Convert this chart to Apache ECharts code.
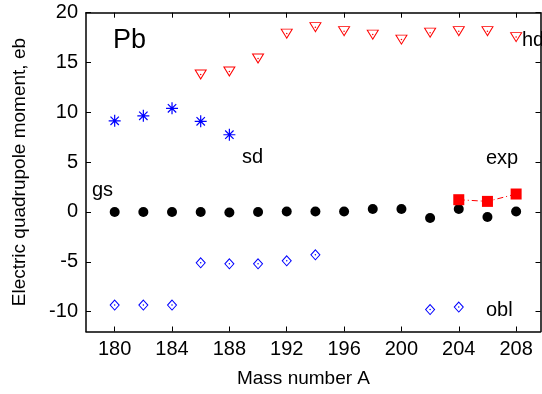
<!DOCTYPE html>
<html>
<head>
<meta charset="utf-8">
<script src="https://cdn.jsdelivr.net/npm/echarts@6/dist/echarts.min.js"></script>
<style>
  html, body { margin: 0; padding: 0; background: #fff; }
  #chart { width: 542px; height: 394px; }
</style>
</head>
<body>
<div id="chart"></div>
<script>
// ground state (gs), filled circles
const gsMass = [180, 182, 184, 186, 188, 190, 192, 194, 196, 198, 200, 202, 204, 206, 208]
const gsValues = [0, 0, 0, 0, -0.05, 0, 0.05, 0.05, 0.05, 0.3, 0.3, -0.6, 0.3, -0.5, 0.05]
// hyperdeformed (hd), open down triangles
const hdMass = [186, 188, 190, 192, 194, 196, 198, 200, 202, 204, 206, 208]
const hdValues = [13.8, 14.1, 15.4, 17.9, 18.55, 18.15, 17.8, 17.3, 18.0, 18.15, 18.15, 17.55]
// superdeformed (sd), asterisks
const sdMass = [180, 182, 184, 186, 188]
const sdValues = [9.15, 9.65, 10.4, 9.1, 7.75]
// oblate (obl), open diamonds
const oblMass = [180, 182, 184, 186, 188, 190, 192, 194, 202, 204]
const oblValues = [-9.35, -9.35, -9.35, -5.1, -5.2, -5.2, -4.9, -4.3, -9.8, -9.55]
// experiment (exp), filled squares
const expMass = [204, 206, 208]
const expValues = [1.23, 1.06, 1.8]

const xTicks = [180, 184, 188, 192, 196, 200, 204, 208]
const yTicks = [-10, -5, 0, 5, 10, 15, 20]

const FONT = 'Liberation Sans, Arial, sans-serif'
const pairs = (xs, ys) => xs.map((x, i) => [x, ys[i]])

const chart = echarts.init(document.getElementById('chart'), null, { renderer: 'canvas' })

const frameLine = { show: true, onZero: false, lineStyle: { color: '#000', width: 1.5 } }
const xBase = {
  type: 'value',
  min: 178,
  max: 209.7,
  axisLine: frameLine,
  axisTick: { inside: true, length: 5, customValues: xTicks, lineStyle: { color: '#000', width: 1 } },
  splitLine: { show: false }
}
const yBase = {
  type: 'value',
  min: -12,
  max: 20,
  axisLine: frameLine,
  axisTick: { inside: true, length: 5, customValues: yTicks, lineStyle: { color: '#000', width: 1 } },
  splitLine: { show: false }
}

const asterisk = 'path://M0,5L10,5M5,0L5,10M1.5,1.5L8.5,8.5M8.5,1.5L1.5,8.5'

const label = (text, x, y, size) => ({
  type: 'text',
  x, y,
  style: { text, font: `${size || 19}px ${FONT}`, fill: '#000', verticalAlign: 'middle', align: 'left' }
})

chart.setOption({
  animation: false,
  backgroundColor: '#fff',
  grid: { left: 86, right: 1.5, top: 12.7, bottom: 62.5, containLabel: false },
  xAxis: [
    {
      ...xBase,
      position: 'bottom',
      axisLabel: { customValues: xTicks, color: '#000', fontSize: 20, fontFamily: FONT, margin: 8 },
      name: 'Mass number A',
      nameLocation: 'middle',
      nameGap: 38,
      nameTextStyle: { color: '#000', fontSize: 19, fontFamily: FONT, padding: [0, 19.5, 0, 0] }
    },
    { ...xBase, position: 'top', axisLabel: { show: false } }
  ],
  yAxis: [
    {
      ...yBase,
      position: 'left',
      axisLabel: { customValues: yTicks, color: '#000', fontSize: 20, fontFamily: FONT, margin: 8 },
      name: 'Electric quadrupole moment, eb',
      nameLocation: 'middle',
      nameGap: 57,
      nameTextStyle: { color: '#000', fontSize: 19, fontFamily: FONT }
    },
    { ...yBase, position: 'right', axisLabel: { show: false } }
  ],
  series: [
    {
      name: 'hd', type: 'scatter', data: pairs(hdMass, hdValues),
      symbol: 'triangle', symbolRotate: 180, symbolSize: [11, 9],
      itemStyle: { color: 'transparent', borderColor: '#ff0000', borderWidth: 1, opacity: 1 }
    },
    {
      name: 'hd dot', type: 'scatter', data: pairs(hdMass, hdValues),
      symbol: 'circle', symbolSize: 1.5, itemStyle: { color: '#ff0000', opacity: 1 }
    },
    {
      name: 'sd', type: 'scatter', data: pairs(sdMass, sdValues),
      symbol: asterisk, symbolSize: 12,
      itemStyle: { color: 'transparent', borderColor: '#0000ff', borderWidth: 1.2, opacity: 1 }
    },
    {
      name: 'obl', type: 'scatter', data: pairs(oblMass, oblValues),
      symbol: 'diamond', symbolSize: [9, 10],
      itemStyle: { color: 'transparent', borderColor: '#0000ff', borderWidth: 1, opacity: 1 }
    },
    {
      name: 'obl dot', type: 'scatter', data: pairs(oblMass, oblValues),
      symbol: 'circle', symbolSize: 1.5, itemStyle: { color: '#0000ff', opacity: 1 }
    },
    {
      name: 'gs', type: 'scatter', data: pairs(gsMass, gsValues),
      symbol: 'circle', symbolSize: 10, itemStyle: { color: '#000', opacity: 1 }
    },
    {
      name: 'exp', type: 'line', data: pairs(expMass, expValues),
      symbol: 'rect', symbolSize: 11, showSymbol: true,
      itemStyle: { color: '#ff0000', opacity: 1 },
      lineStyle: { color: '#ff0000', width: 1, type: [6, 3, 1, 3] }
    }
  ],
  graphic: [
    label('Pb', 113, 41, 27),
    label('sd', 242, 157, 20),
    label('gs', 92, 190, 20),
    label('exp', 486, 158.5, 20),
    label('obl', 486, 310.5, 20),
    label('hd', 522, 40.5, 20)
  ]
})
</script>
</body>
</html>
